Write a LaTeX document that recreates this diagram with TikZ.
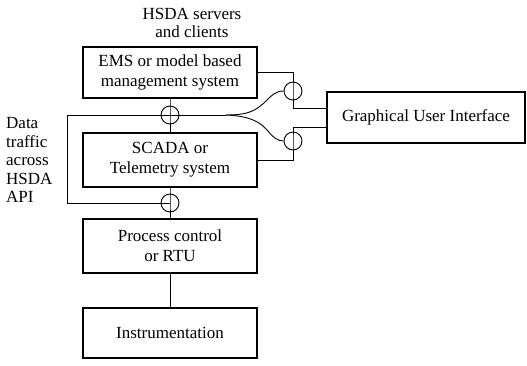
\documentclass[tikz,border=0pt]{standalone}
\usepackage{fontspec}
\setmainfont{Liberation Serif}
\begin{document}
\begin{tikzpicture}[x=1pt,y=-1pt,
  box/.style={draw,line width=1.3pt,minimum width=174pt,inner sep=0pt,align=center,font=\fontsize{17}{20}\selectfont},
  conn/.style={line width=0.9pt},
  joint/.style={circle,draw,line width=0.9pt,minimum size=18pt,inner sep=0pt},
  lbl/.style={inner sep=0pt,font=\fontsize{17}{18}\selectfont}]
\useasboundingbox (0,0) rectangle (527,365);
% boxes
\node[box,minimum height=51pt] (ems) at (170,72.5) {EMS or model based\\management system};
\node[box,minimum height=54pt] (scada) at (170,160) {SCADA or\\Telemetry system};
\node[box,minimum height=54pt] (proc) at (170,246) {Process control\\or RTU};
\node[box,minimum height=50pt] (instr) at (170,333) {Instrumentation};
\node[box,minimum width=198pt,minimum height=51pt] (gui) at (426,117.5) {Graphical User Interface};
% texts
\node[lbl,align=center] (head) at (192,23) {HSDA servers\\and clients};
\node[lbl,align=left,anchor=west,font=\fontsize{17}{18.5}\selectfont] (data) at (6,160) {Data\\traffic\\across\\HSDA\\API};
% joints
\node[joint] (j1) at (170,115) {};
\node[joint] (j2) at (170,203) {};
\node[joint] (j3) at (293,91) {};
\node[joint] (j4) at (293,141) {};
\coordinate (fork) at (226,115);
% vertical chain
\draw[conn] (ems.south) -- (j1.center) -- (scada.north);
\draw[conn] (scada.south) -- (j2.center) -- (proc.north);
\draw[conn] (proc.south) -- (instr.north);
% left loop
\draw[conn] (j1.center) -- (67,115) -- (67,203) -- (j2.center);
% fork to right joints
\draw[conn] (j1.center) -- (fork);
\draw[conn] (fork) .. controls (250,115) and (256,110) .. (265,102) .. controls (272,95) and (276,91) .. (j3.west);
\draw[conn] (fork) .. controls (250,116) and (260,122) .. (267,130) .. controls (273,137) and (277,141) .. (j4.west);
% right connections
\draw[conn] (ems.east) -- (293,72.5) -- (j3.center) -- (293,108) -- (gui.west |- 0,108);
\draw[conn] (gui.west |- 0,127) -- (293,127) -- (j4.center) -- (293,160) -- (scada.east);
\end{tikzpicture}
\end{document}
